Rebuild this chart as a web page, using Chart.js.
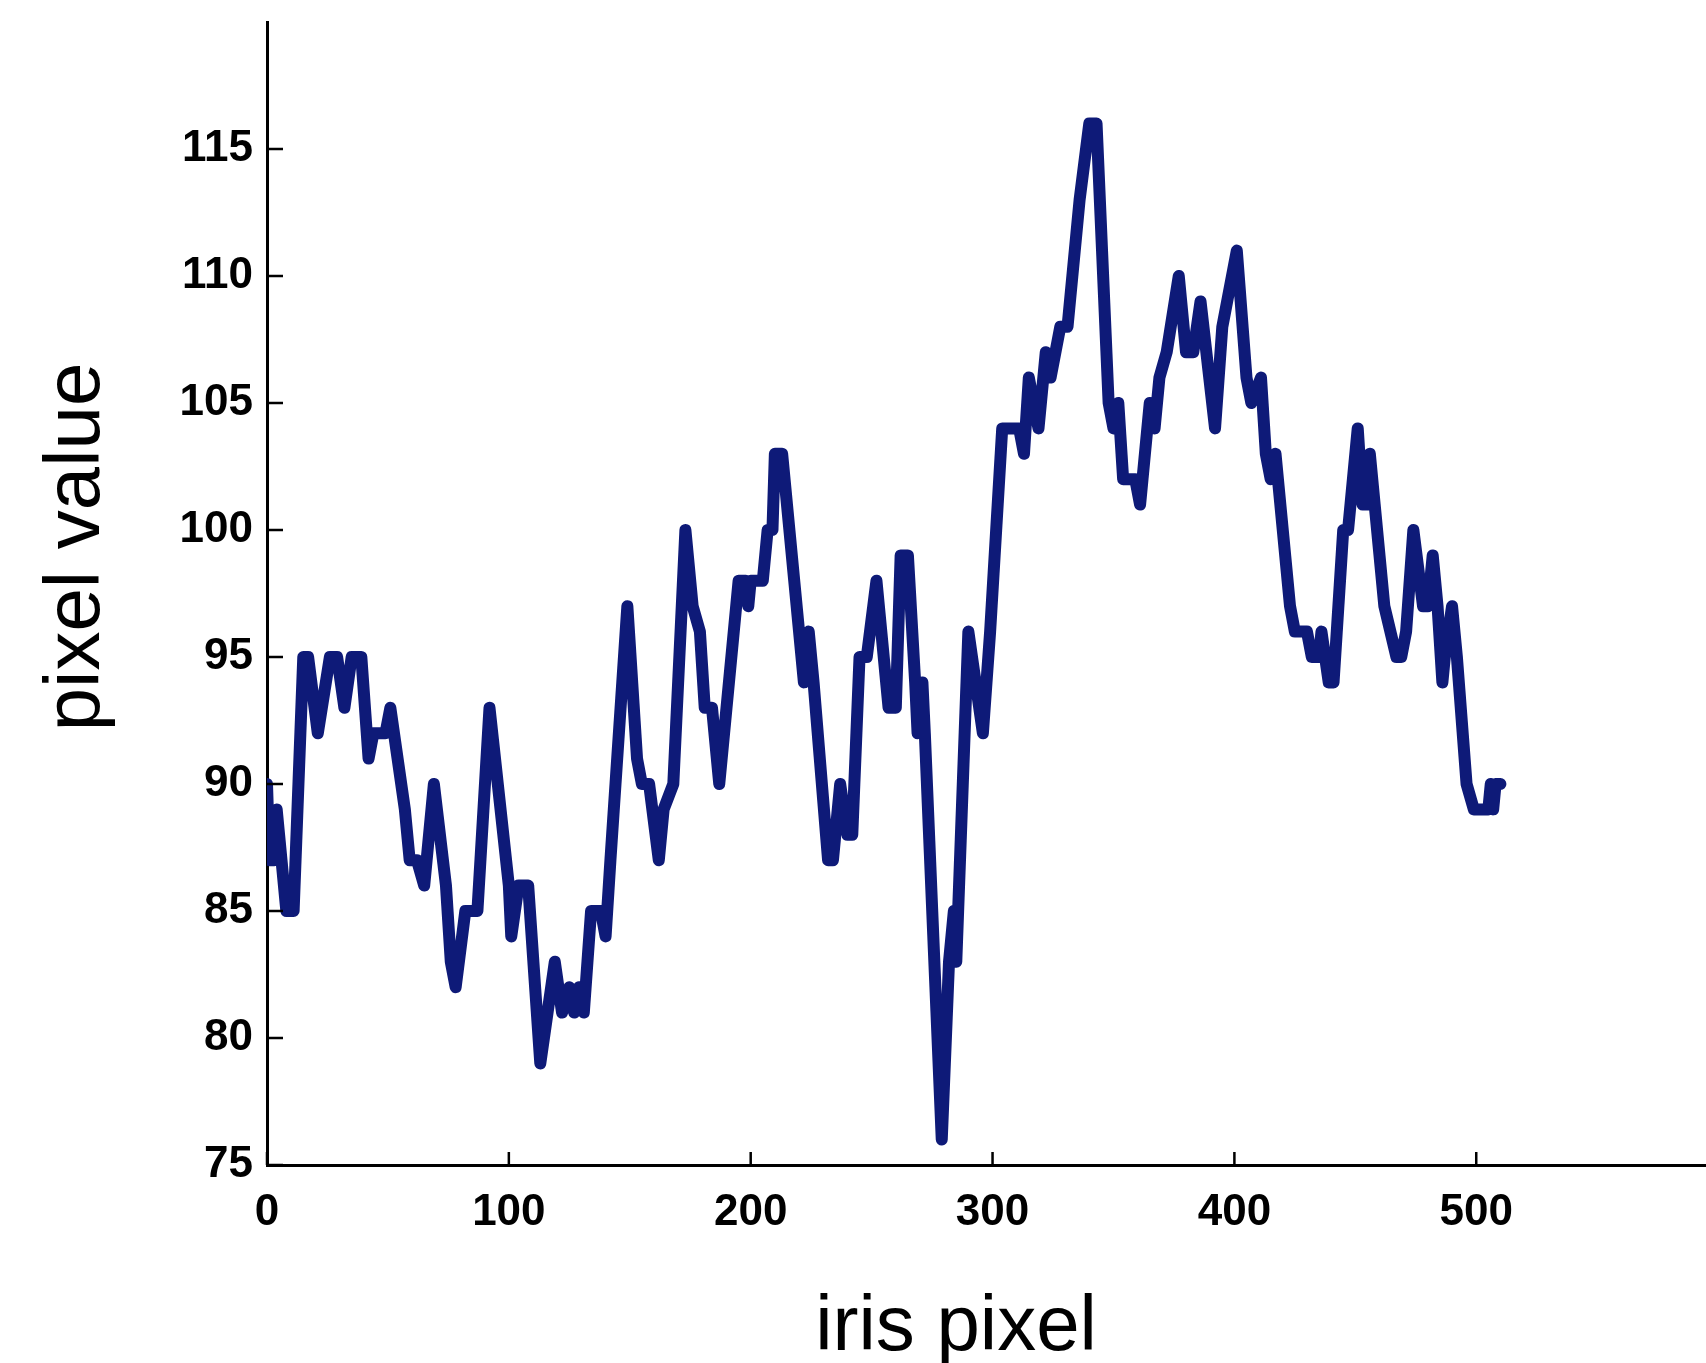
<!DOCTYPE html>
<html>
<head>
<meta charset="utf-8">
<title>iris pixel profile</title>
<script src="https://cdn.jsdelivr.net/npm/chart.js@4.4.0/dist/chart.umd.min.js"></script>
<style>
  html, body { margin: 0; padding: 0; background: #fff; }
  #wrap { width: 1706px; height: 1363px; }
</style>
</head>
<body>
<div id="wrap"><canvas id="irisChart" width="1706" height="1363"></canvas></div>
<script>
// values (vertices of the trace)
const pixelIndex = [
  0, 1, 3, 4, 5, 6, 8, 11, 15, 17, 21, 26, 29, 32, 35, 39, 42, 44, 49, 51,
  54, 57, 59, 62, 65, 69, 74, 76, 78, 82, 87, 92, 100, 101, 104, 108, 113, 119, 122, 125,
  127, 129, 131, 134, 138, 140, 142, 149, 153, 155, 158, 162, 164, 168, 173, 176, 179, 181, 184, 187,
  191, 195, 198, 199, 200, 205, 207, 209, 210, 213, 218, 222, 224, 226, 232, 234, 237, 240, 242, 245,
  248, 252, 257, 260, 262, 265, 268, 269, 271, 272, 279, 282, 284, 285, 290, 296, 299, 304, 311, 313,
  315, 319, 322, 324, 328, 331, 336, 340, 343, 348, 350, 352, 354, 359, 361, 365, 367, 369, 372, 377,
  380, 383, 386, 392, 395, 401, 405, 407, 411, 413, 415, 417, 420, 423, 425, 430, 432, 435, 436, 439,
  441, 445, 447, 451, 453, 455, 456, 458, 462, 467, 469, 471, 474, 478, 480, 482, 484, 486, 487, 490,
  492, 496, 499, 505, 506, 507, 508, 510
];
const pixelValue = [
  90, 87, 87, 89, 88, 87, 85, 85, 95, 95, 92, 95, 95, 93, 95, 95, 91, 92, 92, 93,
  91, 89, 87, 87, 86, 90, 86, 83, 82, 85, 85, 93, 86, 84, 86, 86, 79, 83, 81, 82,
  81, 82, 81, 85, 85, 84, 87, 97, 91, 90, 90, 87, 89, 90, 100, 97, 96, 93, 93, 90,
  94, 98, 98, 97, 98, 98, 100, 100, 103, 103, 98, 94, 96, 94, 87, 87, 90, 88, 88, 95,
  95, 98, 93, 93, 99, 99, 94, 92, 94, 92, 76, 83, 85, 83, 96, 92, 96, 104, 104, 103,
  106, 104, 107, 106, 108, 108, 113, 116, 116, 105, 104, 105, 102, 102, 101, 105, 104, 106, 107, 110,
  107, 107, 109, 104, 108, 111, 106, 105, 106, 103, 102, 103, 100, 97, 96, 96, 95, 95, 96, 94,
  94, 100, 100, 104, 101, 101, 103, 101, 97, 95, 95, 96, 100, 97, 97, 99, 97, 94, 95, 97,
  95, 90, 89, 89, 90, 89, 90, 90
];

const xTicks = [0, 100, 200, 300, 400, 500];
const yTicks = [75, 80, 85, 90, 95, 100, 105, 110, 115];
const xAxisTitle = 'iris pixel';
const yAxisTitle = 'pixel value';

const fontFamily = '"Liberation Sans", Arial, Helvetica, sans-serif';
const lineColor = '#0e1a78';

// inward tick marks (matlab style) + axis titles
const axisDecor = {
  id: 'axisDecor',
  afterDraw(chart) {
    const { ctx, chartArea, scales } = chart;
    ctx.save();
    ctx.strokeStyle = '#000';
    ctx.lineWidth = 2.5;
    ctx.beginPath();
    xTicks.forEach(v => {
      const px = scales.x.getPixelForValue(v);
      ctx.moveTo(px, chartArea.bottom);
      ctx.lineTo(px, chartArea.bottom - 13);
    });
    yTicks.forEach(v => {
      const py = scales.y.getPixelForValue(v);
      ctx.moveTo(chartArea.left, py);
      ctx.lineTo(chartArea.left + 16, py);
    });
    ctx.stroke();

    ctx.fillStyle = '#000';
    ctx.font = '78px ' + fontFamily;
    ctx.textAlign = 'center';
    ctx.textBaseline = 'alphabetic';
    ctx.fillText(xAxisTitle, 956, 1350);
    ctx.translate(99, 547);
    ctx.rotate(-Math.PI / 2);
    ctx.fillText(yAxisTitle, 0, 0);
    ctx.restore();
  }
};

const tickFont = { family: fontFamily, size: 44, weight: 'bold' };

new Chart(document.getElementById('irisChart'), {
  type: 'line',
  data: {
    datasets: [{
      data: pixelIndex.map((x, i) => ({ x: x, y: pixelValue[i] })),
      borderColor: lineColor,
      borderWidth: 12,
      pointRadius: 0,
      tension: 0,
      borderJoinStyle: 'round',
      borderCapStyle: 'round',
      fill: false
    }]
  },
  options: {
    responsive: false,
    animation: false,
    devicePixelRatio: 1,
    layout: { padding: { top: 22, right: 0, bottom: 0, left: 0 } },
    plugins: {
      legend: { display: false },
      tooltip: { enabled: false }
    },
    scales: {
      x: {
        type: 'linear',
        min: 0,
        max: 595,
        afterBuildTicks: s => { s.ticks = xTicks.map(v => ({ value: v })); },
        afterFit: s => { s.height = 198; s.paddingLeft = 0; s.paddingRight = 0; },
        grid: { display: false, drawTicks: false },
        border: { display: true, color: '#000', width: 3 },
        ticks: { font: tickFont, color: '#000', padding: 21, maxRotation: 0, autoSkip: false }
      },
      y: {
        type: 'linear',
        min: 75,
        max: 120,
        afterBuildTicks: s => { s.ticks = yTicks.map(v => ({ value: v })); },
        afterFit: s => { s.width = 267; s.paddingTop = 0; s.paddingBottom = 0; },
        grid: { display: false, drawTicks: false },
        border: { display: true, color: '#000', width: 3 },
        ticks: { font: tickFont, color: '#000', padding: 14 }
      }
    }
  },
  plugins: [axisDecor]
});
</script>
</body>
</html>
